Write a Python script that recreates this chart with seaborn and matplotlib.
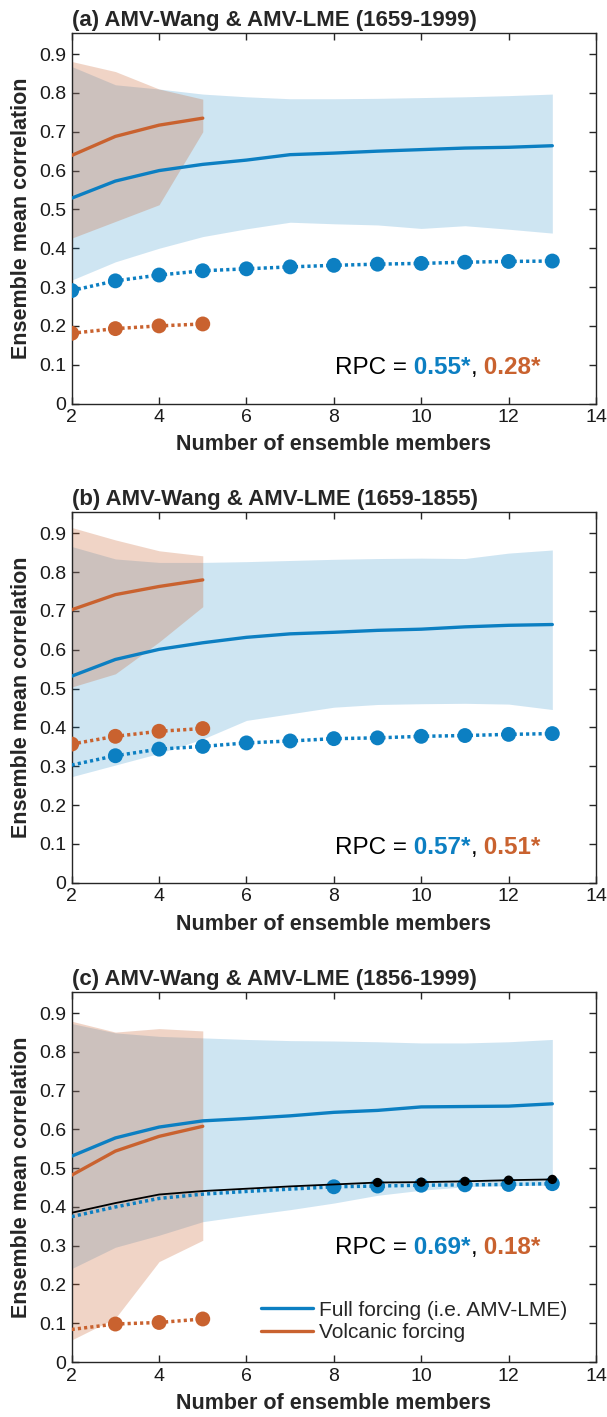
import numpy as np
import matplotlib
matplotlib.use("Agg")
import matplotlib.pyplot as plt
from matplotlib.lines import Line2D
import seaborn as sns

# ---------------------------------------------------------------- data
members = np.arange(2, 14)        # ensemble size, full forcing
members_volc = np.arange(2, 6)    # ensemble size, volcanic forcing

titles = [
    "(a) AMV-Wang & AMV-LME (1659-1999)",
    "(b) AMV-Wang & AMV-LME (1659-1855)",
    "(c) AMV-Wang & AMV-LME (1856-1999)",
]
rpc_full = ["0.55*", "0.57*", "0.69*"]
rpc_volc = ["0.28*", "0.51*", "0.18*"]
legend_labels = ["Full forcing (i.e. AMV-LME)", "Volcanic forcing"]

# (a) 1659-1999
full_mean_a = [0.529, 0.573, 0.600, 0.616, 0.627, 0.641, 0.645, 0.650, 0.654, 0.658, 0.660, 0.664]
full_hi_a = [0.868, 0.821, 0.810, 0.797, 0.790, 0.785, 0.785, 0.786, 0.788, 0.790, 0.793, 0.797]
full_lo_a = [0.318, 0.365, 0.400, 0.430, 0.450, 0.467, 0.463, 0.460, 0.451, 0.458, 0.449, 0.439]
full_corr_a = [0.291, 0.316, 0.331, 0.342, 0.347, 0.352, 0.356, 0.359, 0.361, 0.364, 0.366, 0.367]
full_sig_a = [1, 1, 1, 1, 1, 1, 1, 1, 1, 1, 1, 1]
volc_mean_a = [0.639, 0.688, 0.717, 0.735]
volc_hi_a = [0.881, 0.855, 0.810, 0.784]
volc_lo_a = [0.426, 0.469, 0.512, 0.700]
volc_corr_a = [0.181, 0.193, 0.200, 0.205]
volc_sig_a = [1, 1, 1, 1]

# (b) 1659-1855
full_mean_b = [0.532, 0.575, 0.601, 0.618, 0.632, 0.641, 0.645, 0.650, 0.653, 0.659, 0.663, 0.665]
full_hi_b = [0.866, 0.834, 0.825, 0.825, 0.827, 0.830, 0.833, 0.835, 0.836, 0.835, 0.849, 0.857]
full_lo_b = [0.273, 0.303, 0.333, 0.370, 0.418, 0.435, 0.452, 0.459, 0.461, 0.462, 0.460, 0.446]
full_corr_b = [0.303, 0.327, 0.344, 0.351, 0.360, 0.365, 0.371, 0.373, 0.377, 0.379, 0.382, 0.384]
full_sig_b = [0, 1, 1, 1, 1, 1, 1, 1, 1, 1, 1, 1]
volc_mean_b = [0.703, 0.742, 0.763, 0.780]
volc_hi_b = [0.915, 0.883, 0.855, 0.842]
volc_lo_b = [0.504, 0.538, 0.620, 0.711]
volc_corr_b = [0.357, 0.377, 0.390, 0.397]
volc_sig_b = [1, 1, 1, 1]

# (c) 1856-1999
full_mean_c = [0.531, 0.578, 0.606, 0.622, 0.628, 0.635, 0.644, 0.649, 0.658, 0.659, 0.660, 0.666]
full_hi_c = [0.873, 0.849, 0.840, 0.836, 0.832, 0.829, 0.828, 0.826, 0.823, 0.823, 0.826, 0.832]
full_lo_c = [0.241, 0.296, 0.327, 0.362, 0.378, 0.393, 0.410, 0.430, 0.443, 0.452, 0.455, 0.456]
full_corr_c = [0.375, 0.400, 0.422, 0.433, 0.440, 0.446, 0.452, 0.454, 0.456, 0.457, 0.458, 0.460]
full_sig_c = [0, 0, 0, 0, 0, 0, 1, 1, 1, 1, 1, 1]
volc_mean_c = [0.482, 0.544, 0.582, 0.608]
volc_hi_c = [0.879, 0.851, 0.860, 0.854]
volc_lo_c = [0.057, 0.113, 0.259, 0.314]
volc_corr_c = [0.084, 0.098, 0.102, 0.111]
volc_sig_c = [0, 1, 1, 1]
ref_corr_c = [0.385, 0.410, 0.432, 0.441, 0.447, 0.453, 0.458, 0.463, 0.464, 0.466, 0.469, 0.471]
ref_sig_c = [0, 0, 0, 0, 0, 0, 0, 1, 1, 1, 1, 1]

# --------------------------------------------------------------- style
BLUE = "#0C7FC2"
ORANGE = "#C9622F"
AXC = "#262626"

sns.set_style("ticks")
plt.rcParams["font.family"] = ["Liberation Sans", "DejaVu Sans"]
plt.rcParams["axes.edgecolor"] = AXC
plt.rcParams["axes.linewidth"] = 1.0

panels = [
    dict(fm=full_mean_a, fh=full_hi_a, fl=full_lo_a, fc=full_corr_a, fs=full_sig_a,
         vm=volc_mean_a, vh=volc_hi_a, vl=volc_lo_a, vc=volc_corr_a, vs=volc_sig_a,
         rpc_y=0.062),
    dict(fm=full_mean_b, fh=full_hi_b, fl=full_lo_b, fc=full_corr_b, fs=full_sig_b,
         vm=volc_mean_b, vh=volc_hi_b, vl=volc_lo_b, vc=volc_corr_b, vs=volc_sig_b,
         rpc_y=0.060),
    dict(fm=full_mean_c, fh=full_hi_c, fl=full_lo_c, fc=full_corr_c, fs=full_sig_c,
         vm=volc_mean_c, vh=volc_hi_c, vl=volc_lo_c, vc=volc_corr_c, vs=volc_sig_c,
         rpc_y=0.266),
]

fig = plt.figure(figsize=(6.07, 14.17), dpi=100)
rects = [
    [0.1181, 0.7152, 0.8638, 0.2617],
    [0.1181, 0.3771, 0.8638, 0.2616],
    [0.1181, 0.0388, 0.8638, 0.2613],
]

DOT = (0, (0.9, 0.9))

for i, p in enumerate(panels):
    ax = fig.add_axes(rects[i])

    # spread of ensemble-mean correlation
    ax.fill_between(members, p["fl"], p["fh"], color=BLUE, alpha=0.2, lw=0, zorder=1)
    ax.fill_between(members_volc, p["vl"], p["vh"], color=ORANGE, alpha=0.27, lw=0, zorder=1.1)

    # mean of ensemble-mean correlation
    sns.lineplot(x=members, y=p["fm"], color=BLUE, lw=2.4, ax=ax, zorder=3)
    sns.lineplot(x=members_volc, y=p["vm"], color=ORANGE, lw=2.4, ax=ax, zorder=3)

    # correlation of the actual ensemble mean (dotted)
    sns.lineplot(x=members, y=p["fc"], color=BLUE, lw=2.5, linestyle=DOT, ax=ax, zorder=4)
    sns.lineplot(x=members_volc, y=p["vc"], color=ORANGE, lw=2.5, linestyle=DOT, ax=ax, zorder=4)

    fsig = np.array(p["fs"], bool)
    vsig = np.array(p["vs"], bool)
    sns.scatterplot(x=members[fsig], y=np.array(p["fc"])[fsig], color=BLUE, s=115,
                    edgecolor="none", ax=ax, zorder=5, legend=False)
    sns.scatterplot(x=members_volc[vsig], y=np.array(p["vc"])[vsig], color=ORANGE, s=115,
                    edgecolor="none", ax=ax, zorder=5, legend=False)

    if i == 2:
        rsig = np.array(ref_sig_c, bool)
        sns.lineplot(x=members, y=ref_corr_c, color="black", lw=1.3, ax=ax, zorder=6)
        sns.scatterplot(x=members[rsig], y=np.array(ref_corr_c)[rsig], color="black", s=45,
                        edgecolor="none", ax=ax, zorder=7, legend=False)

    ax.set_xlim(2, 14)
    ax.set_ylim(0, 0.955)
    ax.set_xticks(np.arange(2, 15, 2))
    yt = np.round(np.arange(0, 0.91, 0.1), 1)
    ax.set_yticks(yt)
    ax.set_yticklabels(["0"] + [f"{v:.1f}" for v in yt[1:]])
    ax.tick_params(direction="in", top=True, right=True, length=5, width=1,
                   labelsize=14, pad=4, colors=AXC, labelcolor="#1a1a1a")

    ax.set_title(titles[i], loc="left", fontsize=16, fontweight="bold", pad=5)
    ax.set_xlabel("Number of ensemble members", fontsize=15.5, fontweight="bold", labelpad=6)
    ax.set_ylabel("Ensemble mean correlation", fontsize=15.5, fontweight="bold")
    ax.yaxis.set_label_coords(-0.075, 0.5)
    for s in ax.spines.values():
        s.set_visible(True)
        s.set_color(AXC)

    # RPC annotation, pieces chained left to right
    fsz = 17.5
    t0 = ax.text(8.03, p["rpc_y"], "RPC =", fontsize=fsz, color="black", va="bottom", zorder=8)
    t1 = ax.annotate(" " + rpc_full[i], xy=(1, 0), xycoords=t0, fontsize=fsz,
                     fontweight="bold", color=BLUE, va="bottom", zorder=8)
    t2 = ax.annotate(",", xy=(1, 0), xycoords=t1, fontsize=fsz, color="black",
                     va="bottom", zorder=8)
    ax.annotate(" " + rpc_volc[i], xy=(1, 0), xycoords=t2, fontsize=fsz,
                fontweight="bold", color=ORANGE, va="bottom", zorder=8)

    if i == 2:
        handles = [Line2D([], [], color=BLUE, lw=2.4), Line2D([], [], color=ORANGE, lw=2.4)]
        ax.legend(handles, legend_labels, loc="center left", bbox_to_anchor=(0.361, 0.11),
                  frameon=False, fontsize=15, handlelength=2.5, handletextpad=0.3,
                  labelspacing=0.15, borderpad=0, borderaxespad=0)

fig.savefig("out.png", dpi=100)
